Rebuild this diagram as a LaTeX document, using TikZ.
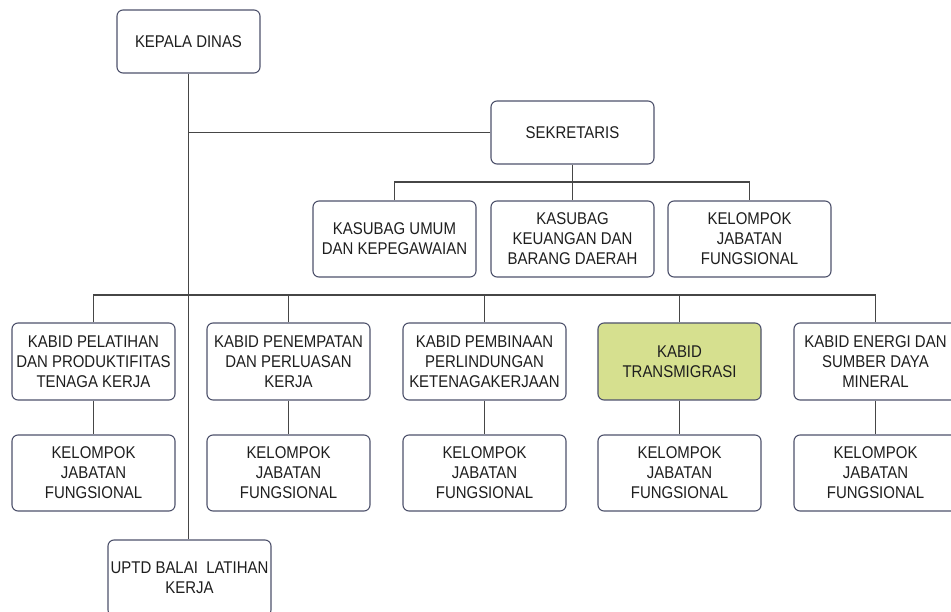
\documentclass[tikz,border=0pt]{standalone}
\usepackage{fontspec}
\setmainfont{Liberation Sans}[FakeStretch=0.88]
\begin{document}
\definecolor{boxline}{RGB}{78,82,108}
\definecolor{wire}{RGB}{70,70,70}
\definecolor{txt}{RGB}{30,30,30}
\definecolor{hilite}{RGB}{214,224,143}
\begin{tikzpicture}[x=1pt,y=-1pt,
  unit/.style={draw=boxline,line width=1.1pt,rounded corners=6pt,fill=white,
    minimum width=163pt,minimum height=77pt,inner sep=2pt,align=center,
    text=txt,font=\fontsize{17}{20}\selectfont},
  link/.style={draw=wire,line width=1.1pt}]
\useasboundingbox (0,0) rectangle (951,612);
\clip (0,0) rectangle (951,612);

% top level
\node[unit,minimum width=143pt,minimum height=63pt] (kepala) at (188.5,41.5) {KEPALA DINAS};
\node[unit,minimum height=63pt] (sek) at (572.5,132.5) {SEKRETARIS};

% secretariat units
\node[unit,minimum height=76pt] (umum) at (394.5,239) {KASUBAG UMUM\\DAN KEPEGAWAIAN};
\node[unit,minimum height=76pt] (keu)  at (572.5,239) {KASUBAG\\KEUANGAN DAN\\BARANG DAERAH};
\node[unit,minimum height=76pt] (kjf0) at (749.5,239) {KELOMPOK\\JABATAN\\FUNGSIONAL};

% divisions
\node[unit] (b1) at (93.5,361.5)  {KABID PELATIHAN\\DAN PRODUKTIFITAS\\TENAGA KERJA};
\node[unit] (b2) at (288.5,361.5) {KABID PENEMPATAN\\DAN PERLUASAN\\KERJA};
\node[unit] (b3) at (484.5,361.5) {KABID PEMBINAAN\\PERLINDUNGAN\\KETENAGAKERJAAN};
\node[unit,fill=hilite] (b4) at (679.5,361.5) {KABID\\TRANSMIGRASI};
\node[unit] (b5) at (875.5,361.5) {KABID ENERGI DAN\\SUMBER DAYA\\MINERAL};

% functional groups under each division
\foreach \i/\x in {1/93.5,2/288.5,3/484.5,4/679.5,5/875.5}
  \node[unit,minimum height=76pt] (k\i) at (\x,473) {KELOMPOK\\JABATAN\\FUNGSIONAL};

% technical unit
\node[unit,minimum height=76pt] (uptd) at (189.5,578) {UPTD BALAI\ \ LATIHAN\\KERJA};

% connectors
\coordinate (bus1) at (572.5,182);
\coordinate (bus2) at (484.5,295);
\draw[link] (kepala.south) -- (kepala.south |- uptd.north);
\draw[link] (sek.west) -- (sek.west -| kepala.south);
\draw[link] (sek.south) -- (keu.north);
\draw[link] (umum.north) -- (umum.north |- bus1) -- (kjf0.north |- bus1) -- (kjf0.north);
\draw[link] (b1.north) -- (b1.north |- bus2) -- (b5.north |- bus2) -- (b5.north);
\foreach \i in {2,3,4}
  \draw[link] (b\i.north) -- (b\i.north |- bus2);
\foreach \i in {1,...,5}
  \draw[link] (b\i.south) -- (k\i.north);
\end{tikzpicture}
\end{document}
